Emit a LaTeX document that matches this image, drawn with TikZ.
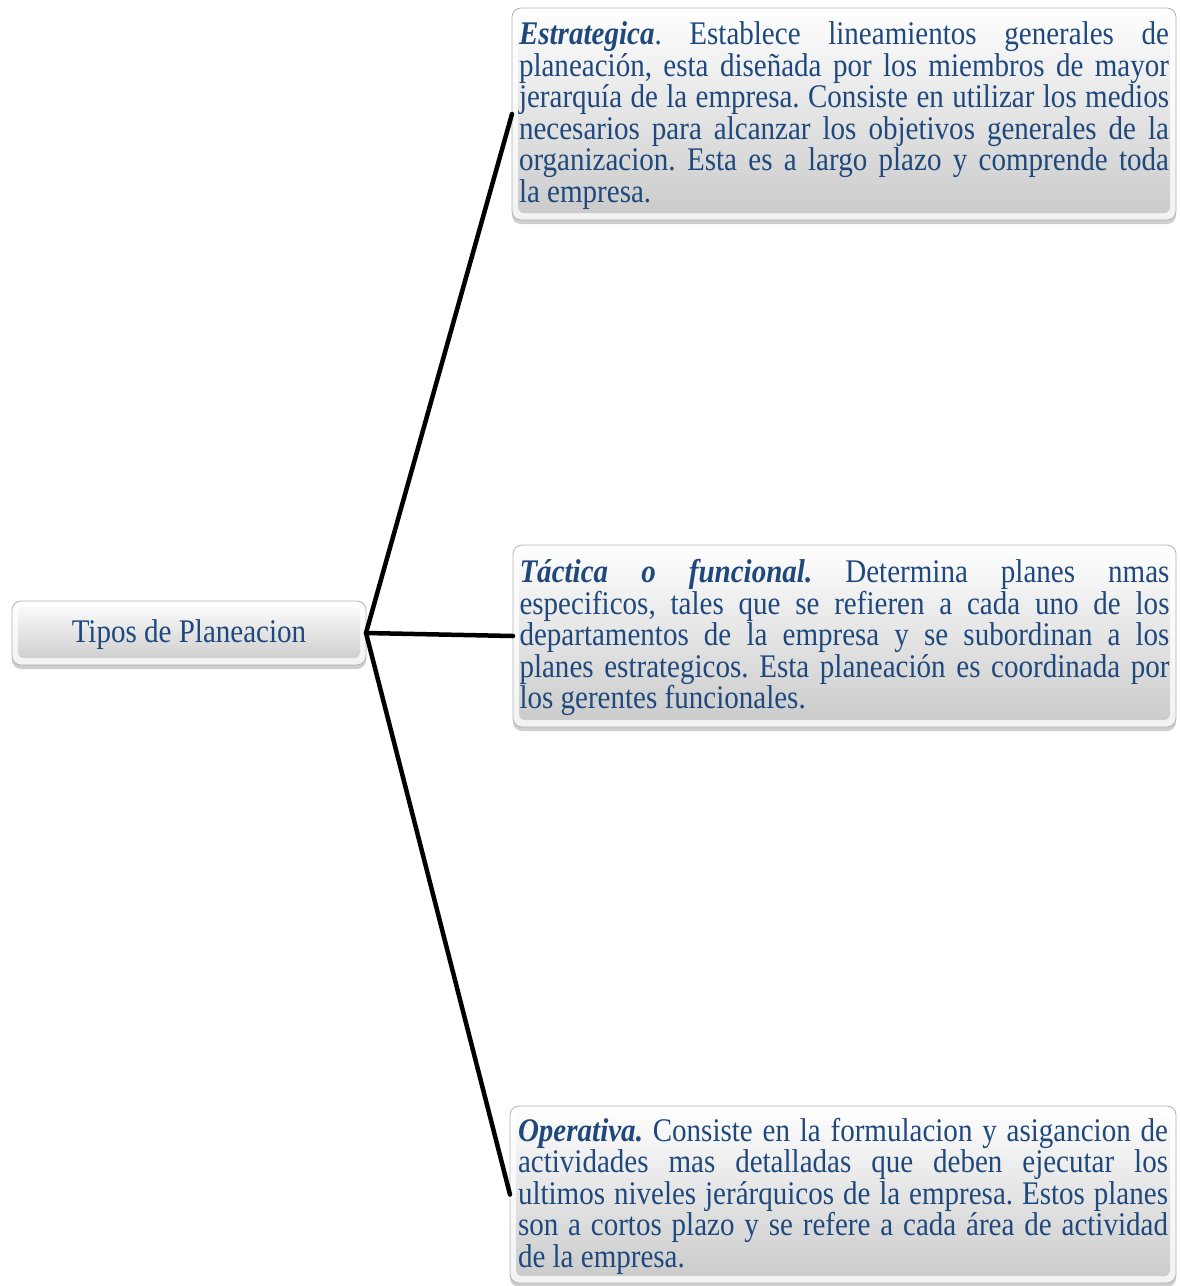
\documentclass[tikz,border=0pt]{standalone}
\usepackage{fontspec}
\setmainfont[FakeStretch=0.88]{Liberation Serif}
\usetikzlibrary{shadows}

\definecolor{txtblue}{RGB}{31,73,125}

% one line of a justified paragraph, and the ragged last line
\newcommand\linestrut{\vrule width 0pt height 27pt depth 8pt}
\newcommand\jline[1]{\hbox to 650pt{\linestrut #1}}
\newcommand\lastline[1]{\hbox to 650pt{\linestrut #1\hfil}}
\newcommand\hd[1]{\textbf{\textit{#1}}}
\newcommand\para[1]{\vbox{\baselineskip=31.5pt\lineskiplimit=-100pt #1}}

\tikzset{
  bevelbox/.style={
    rectangle, rounded corners=9pt, draw=gray!60, line width=0.8pt,
    top color=white, bottom color=gray!10,
    inner sep=0pt, outer sep=0pt,
    text=txtblue,
    drop shadow={shadow xshift=0pt, shadow yshift=-4pt, opacity=0.45, fill=gray!85},
    path picture={
      \path[rounded corners=6pt, top color=white, bottom color=gray!42]
        ([shift={(6pt,-6pt)}]path picture bounding box.north west)
        rectangle ([shift={(-6pt,7pt)}]path picture bounding box.south east);
    }
  },
  link/.style={line width=4.5pt, black, line cap=round}
}

\begin{document}
\begin{tikzpicture}[x=1pt,y=-1pt]
\useasboundingbox (0,0) rectangle (1179,1286);
\fontsize{33}{31.5}\selectfont
\frenchspacing

% root
\node[bevelbox, minimum width=354pt, minimum height=64pt] (root) at (189,633)
  {\vrule width 0pt height 27pt depth 7pt Tipos de Planeacion};

% strategic planning
\node[bevelbox, minimum width=664pt, minimum height=212pt] (estr) at (844,114)
  {\para{%
    \jline{\hd{Estrategica}. Establece lineamientos generales de}
    \jline{planeación, esta diseñada por los miembros de mayor}
    \jline{jerarquía de la empresa. Consiste en utilizar los medios}
    \jline{necesarios para alcanzar los objetivos generales de la}
    \jline{organizacion. Esta es a largo plazo y comprende toda}
    \lastline{la empresa.}}};

% tactical planning
\node[bevelbox, minimum width=663pt, minimum height=182pt] (tact) at (844.5,636)
  {\para{%
    \jline{\hd{Táctica o funcional.} Determina planes nmas}
    \jline{especificos, tales que se refieren a cada uno de los}
    \jline{departamentos de la empresa y se subordinan a los}
    \jline{planes estrategicos. Esta planeación es coordinada por}
    \lastline{los gerentes funcionales.}}};

% operational planning
\node[bevelbox, minimum width=666pt, minimum height=177pt] (oper) at (843,1194.5)
  {\para{%
    \jline{\hd{Operativa.} Consiste en la formulacion y asigancion de}
    \jline{actividades mas detalladas que deben ejecutar los}
    \jline{ultimos niveles jerárquicos de la empresa. Estos planes}
    \jline{son a cortos plazo y se refere a cada área de actividad}
    \lastline{de la empresa.}}};

% connectors
\draw[link] (root.east) -- (estr.west);
\draw[link] (root.east) -- (tact.west);
\draw[link] (root.east) -- (oper.west);
\end{tikzpicture}
\end{document}
